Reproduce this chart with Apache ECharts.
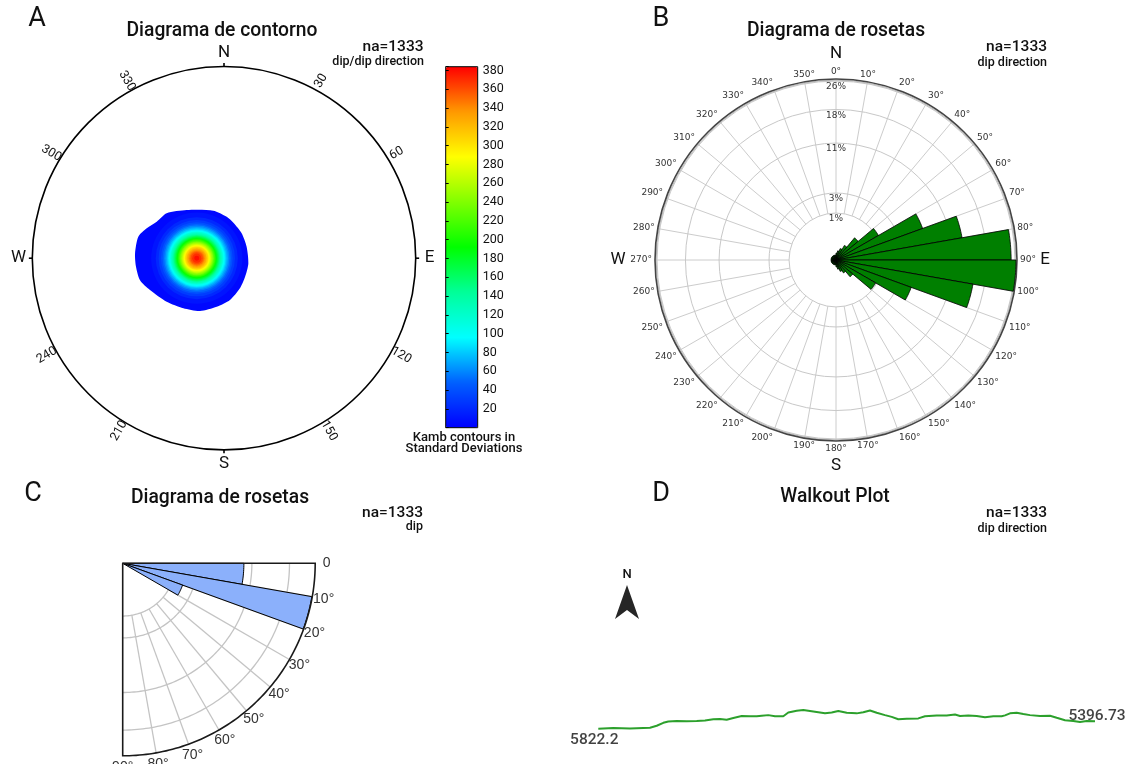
<!DOCTYPE html>
<html><head><meta charset="utf-8">
<script src="https://cdn.jsdelivr.net/npm/echarts@6/dist/echarts.min.js"></script>
<style>html,body{margin:0;padding:0;background:#fff}#c{width:1132px;height:764px}</style>
</head><body><div id="c"></div>
<script>
// ================= DATA =================
const sampleCount = 1333;

// Panel A : contour diagram (stereonet units, radius 1 = primitive circle)
const colorbarMin = 0;
const colorbarMax = 384;
const colorbarTicks = [20,40,60,80,100,120,140,160,180,200,220,240,260,280,300,320,340,360,380];
const contourCenter = [-0.142, 0.0];
const contourOutlineLevel = 4;
const contourOutlineU = [-0.299,-0.195,-0.056,0.014,0.049,0.092,0.118,0.127,0.110,0.083,0.031,-0.038,-0.125,-0.212,-0.299,-0.386,-0.438,-0.459,-0.464,-0.447,-0.403,-0.351];
const contourOutlineV = [0.234,0.251,0.248,0.216,0.185,0.130,0.060,-0.027,-0.097,-0.157,-0.218,-0.253,-0.275,-0.261,-0.227,-0.166,-0.115,-0.044,0.026,0.112,0.156,0.190];
const contourLevels = [10,20,30,40,50,60,70,80,90,100,110,120,130,140,150,160,170,180,190,200,210,220,230,240,250,260,270,280,290,300,310,320,330,340,350,360,370,380];
const contourRadii  = [0.238,0.214,0.199,0.187,0.178,0.170,0.163,0.156,0.150,0.145,0.139,0.135,0.130,0.125,0.121,0.117,0.113,0.109,0.104,0.101,0.097,0.093,0.089,0.086,0.082,0.078,0.074,0.070,0.066,0.062,0.058,0.053,0.049,0.043,0.038,0.032,0.024,0.013];
const azimuthAngles = [0,30,60,90,120,150,180,210,240,270,300,330];
const azimuthText   = ['N','30','60','E','120','150','S','210','240','W','300','330'];

// Panel B : rose diagram of dip direction (percent per 10 degree bin)
const roseBinStart = [0,10,20,30,40,50,60,70,80,90,100,110,120,130,140,150,160,170,180,190,200,210,220,230,240,250,260,270,280,290,300,310,320,330,340,350];
const rosePercent  = [0.04,0.07,0.12,0.23,0.68,1.95,6.9,13.3,24.9,26.3,15.7,5.2,1.7,0.39,0.18,0.12,0.07,0.04,0.02,0.02,0.02,0.02,0.02,0.02,0.02,0.02,0.02,0.02,0.02,0.02,0.02,0.02,0.02,0.02,0.02,0.02];
const roseMaxPercent = 26.6;
const roseRingValues = [1.79,3.64,11.1,18.4,26.0];
const roseRingLabels = ['1%','3%','11%','18%','26%'];

// Panel C : rose diagram of dip (percent per 10 degree bin)
const dipBinStart = [0,10,20];
const dipPercent  = [26.4,66.3,7.3];
const dipMaxPercent = 66.6;
const dipRingValues = [5,10,30,50];
const dipSpokes = [10,20,30,40,50,60,70,80];
const dipTickAngles = [0,10,20,30,40,50,60,70,80,90];
const dipTickLabels = ['0','10°','20°','30°','40°','50°','60°','70°','80°','90°'];

// Panel D : walkout plot (east / north displacement)
const walkEast  = [0,15,31.7,51.7,58.4,65,70,78.4,88.4,98.4,106.7,115,121.7,128.4,135,143.4,151.7,158.4,163.4,170,176.7,185,190,198.4,205,215,226.7,233.4,240,248.4,258.4,265,271.7,278.4,286.7,293.4,300,308.4,320,326.7,338.4,348.4,356.7,361.7,370,378.4,386.7,395,403.4,406.7,411.7,418.4,425,431.7,441.7,451.7,458.4,466.7,475,481.7,488.4,496.7];
const walkNorth = [0,0.6,0.3,1,3.3,6.6,8,8.6,8.3,8.6,9.3,10.6,11,10,12,14.3,14,14,14.6,15.3,14,14,18.3,20.3,21,19.3,17.3,18.3,20,18,17.3,18.6,20.6,18,15.3,13.3,10.6,11.3,11.6,14,15,15,16,14.3,15,14.3,13,14,14,15,17.3,18,16.6,15.3,14.3,14.6,12.3,9.6,8.6,7.6,8.6,8.3];
const walkStartLabel = '5822.2';
const walkEndLabel = '5396.73';

// ================= RENDER =================
const FONT = 'Roboto, "Noto Sans", sans-serif';
const chart = echarts.init(document.getElementById('c'));

function txt(x, y, text, size, o) {
  o = o || {};
  return {type:'text', x:x, y:y, silent:true, z:100, style:{
    text:text, font:(o.weight||'normal')+' '+size+'px '+(o.family||FONT),
    fill:o.color||'#111', align:o.align||'center', verticalAlign:o.va||'middle'}};
}

// ---- Panel A renderers
function renderContour(params, api) {
  const i = params.dataIndex;
  const color = api.visual('color');
  if (i === 0) {
    const pts = contourOutlineU.map((u,k)=>api.coord([u, contourOutlineV[k]]));
    return {type:'polygon', shape:{points:pts, smooth:0.25}, style:{fill:color}};
  }
  const c = api.coord(contourCenter);
  const r = api.size([contourRadii[i-1], 0])[0];
  return {type:'circle', shape:{cx:c[0], cy:c[1], r:r}, style:{fill:color}};
}
function renderStereoFrame(params, api) {
  const i = params.dataIndex;
  const az = api.value(0);
  const children = [];
  const c = api.coord([0,0]);
  const R = api.size([1,1])[0];
  if (i === 0) children.push({type:'circle', shape:{cx:c[0], cy:c[1], r:R}, style:{fill:'none', stroke:'#000', lineWidth:1.6}});
  if (az % 90 === 0) {
    const a = az*Math.PI/180, dx = Math.sin(a), dy = Math.cos(a);
    const p1 = api.coord([dx, dy]), p2 = api.coord([dx*1.018, dy*1.018]);
    children.push({type:'line', shape:{x1:p1[0],y1:p1[1],x2:p2[0],y2:p2[1]}, style:{stroke:'#000', lineWidth:1.6}});
    const pt = api.coord([dx*1.072, dy*1.072]);
    children.push({type:'text', x:pt[0], y:pt[1], style:{text:azimuthText[i], font:'17px '+FONT, fill:'#111', align:'center', verticalAlign:'middle'}});
  } else {
    const shift = az < 180 ? -1.3 : 1.3;
    const a = (az+shift)*Math.PI/180;
    const pt = api.coord([Math.sin(a)*1.054, Math.cos(a)*1.054]);
    let rot = 90 - az;
    rot = ((rot % 180) + 180) % 180; if (rot > 90) rot -= 180;
    children.push({type:'text', x:pt[0], y:pt[1], rotation:rot*Math.PI/180,
      style:{text:azimuthText[i], font:'12.5px '+FONT, fill:'#111', align:'center', verticalAlign:'middle'}});
  }
  return {type:'group', children:children};
}

// ---- Panel B renderers (polar 1, radius axis in sqrt(percent))
function renderRoseRing(params, api) {
  const v = api.value(0);
  const c = api.coord([0, 0]);
  const top = api.coord([Math.sqrt(v), 0]);
  const r = Math.hypot(top[0]-c[0], top[1]-c[1]);
  return {type:'group', children:[
    {type:'circle', shape:{cx:c[0], cy:c[1], r:r}, style:{fill:'none', stroke:'#c8c8c8', lineWidth:1}},
    {type:'text', x:top[0], y:top[1]+6, style:{text:roseRingLabels[params.dataIndex], font:'9px "DejaVu Sans"', fill:'#333', align:'center', verticalAlign:'middle'}}
  ]};
}
function renderRoseOuter(params, api) {
  const c = api.coord([0, 0]);
  const top = api.coord([Math.sqrt(roseMaxPercent), 0]);
  const r = Math.hypot(top[0]-c[0], top[1]-c[1]);
  return {type:'group', children:[
    {type:'circle', shape:{cx:c[0], cy:c[1], r:r-1.2}, style:{fill:'none', stroke:'#bbbbbb', lineWidth:1}},
    {type:'circle', shape:{cx:c[0], cy:c[1], r:r}, style:{fill:'none', stroke:'#444', lineWidth:1.6}}
  ]};
}
function wedge(api, a0, width, pct, fill, lw) {
  const rr = Math.sqrt(pct);
  const pts = [api.coord([0, a0])];
  for (let k = 0; k <= 10; k++) pts.push(api.coord([rr, a0 + width*k/10]));
  return {type:'polygon', shape:{points:pts}, style:{fill:fill, stroke:'#000', lineWidth:lw}};
}
function renderRoseBar(params, api) {
  return wedge(api, api.value(0), 10, api.value(1), '#007f00', 0.8);
}

// ---- Panel C renderers (polar 2)
function renderDipRing(params, api) {
  const rr = Math.sqrt(api.value(0));
  const pts = [];
  for (let a = 0; a <= 90; a++) pts.push(api.coord([rr, a]));
  return {type:'polyline', shape:{points:pts}, style:{fill:'none', stroke:'#c4c4c4', lineWidth:1.3}};
}
function renderDipSpoke(params, api) {
  const a = api.value(0);
  const p1 = api.coord([Math.sqrt(dipRingValues[0]), a]);
  const p2 = api.coord([Math.sqrt(dipMaxPercent), a]);
  return {type:'line', shape:{x1:p1[0],y1:p1[1],x2:p2[0],y2:p2[1]}, style:{stroke:'#c4c4c4', lineWidth:1.3}};
}
function renderDipBar(params, api) {
  return wedge(api, api.value(0), 10, api.value(1), '#8bb0fb', 1);
}
function renderDipFrame(params, api) {
  const R = Math.sqrt(dipMaxPercent);
  const pts = [api.coord([0, 0])];
  for (let a = 0; a <= 90; a++) pts.push(api.coord([R, a]));
  pts.push(api.coord([0, 90]));
  return {type:'polyline', shape:{points:pts}, style:{fill:'none', stroke:'#1a1a1a', lineWidth:1.6}};
}
function renderDipLabel(params, api) {
  const a = api.value(0);
  const p = api.coord([Math.sqrt(dipMaxPercent)*1.06, a]);
  return {type:'text', x:p[0], y:p[1], style:{text:dipTickLabels[params.dataIndex], font:'14px "Liberation Sans"', fill:'#333', align:'center', verticalAlign:'middle'}};
}

const TS = 19.3; // title font size
const option = {
  animation: false,
  backgroundColor: '#fff',
  grid: [
    {left:32.3, top:66.5, width:383.4, height:383.4},
    {left:445.7, top:66.7, width:32, height:361, show:true, borderColor:'#000', borderWidth:1, z:10},
    {left:598.3, top:693.3, width:500, height:80}
  ],
  xAxis: [
    {gridIndex:0, type:'value', min:-1, max:1, show:false},
    {gridIndex:1, type:'value', min:0, max:1, show:false},
    {gridIndex:2, type:'value', min:0, max:500, show:false}
  ],
  yAxis: [
    {gridIndex:0, type:'value', min:-1, max:1, show:false},
    {gridIndex:1, type:'value', position:'right', min:colorbarMin, max:colorbarMax, interval:20, z:10,
      axisLine:{show:false}, splitLine:{show:false},
      axisTick:{show:true, length:3, lineStyle:{color:'#000'}},
      axisLabel:{margin:5, fontSize:12.5, fontFamily:FONT, color:'#111',
        formatter: v => colorbarTicks.indexOf(v) >= 0 ? String(v) : ''}},
    {gridIndex:2, type:'value', min:-40, max:40, show:false}
  ],
  polar: [
    {center:[836, 260], radius:[47, 181]},
    {center:[836, 260], radius:[0, 181]},
    {center:[122.7, 563.3], radius:[0, 192.5]}
  ],
  angleAxis: [
    {polarIndex:0, type:'value', min:0, max:360, interval:10, startAngle:90, clockwise:true,
      axisLine:{show:false},
      axisTick:{show:false},
      axisLabel:{show:true, margin:3, fontSize:9, fontFamily:'DejaVu Sans', color:'#333',
        formatter: v => v >= 360 ? '' : v + '°'},
      splitLine:{show:true, lineStyle:{color:'#cccccc', width:1}}},
    {polarIndex:1, type:'value', min:0, max:360, startAngle:90, clockwise:true, show:false},
    {polarIndex:2, type:'value', min:0, max:360, startAngle:0, clockwise:true, show:false}
  ],
  radiusAxis: [
    {polarIndex:0, type:'value', min:0, max:1, show:false},
    {polarIndex:1, type:'value', min:0, max:Math.sqrt(roseMaxPercent), show:false},
    {polarIndex:2, type:'value', min:0, max:Math.sqrt(dipMaxPercent), show:false}
  ],
  visualMap: [{
    type:'continuous', min:colorbarMin, max:colorbarMax, seriesIndex:0, dimension:0,
    left:445.7, top:66.7, itemWidth:32, itemHeight:361, padding:0,
    calculable:false, hoverLink:false, text:null, orient:'vertical',
    inRange:{color:['#0000ff','#0060ff','#00ffff','#00ff99','#00ff00','#80ff00','#ffff00','#ff9900','#ff0000']}
  }],
  series: [
    {type:'custom', coordinateSystem:'cartesian2d', xAxisIndex:0, yAxisIndex:0, silent:true,
      data:[contourOutlineLevel].concat(contourLevels).map(v=>[v]), renderItem:renderContour, encode:{x:-1,y:-1}},
    {type:'custom', coordinateSystem:'cartesian2d', xAxisIndex:0, yAxisIndex:0, silent:true,
      data:azimuthAngles.map(v=>[v]), renderItem:renderStereoFrame, encode:{x:-1,y:-1}},
    {type:'custom', coordinateSystem:'polar', polarIndex:1, silent:true,
      data:roseRingValues.map(v=>[v]), renderItem:renderRoseRing},
    {type:'custom', coordinateSystem:'polar', polarIndex:1, silent:true,
      data:[[0]], renderItem:renderRoseOuter},
    {type:'custom', coordinateSystem:'polar', polarIndex:1, silent:true,
      data:roseBinStart.map((a,i)=>[a, rosePercent[i]]), renderItem:renderRoseBar},
    {type:'custom', coordinateSystem:'polar', polarIndex:2, silent:true,
      data:dipRingValues.map(v=>[v]), renderItem:renderDipRing},
    {type:'custom', coordinateSystem:'polar', polarIndex:2, silent:true,
      data:dipSpokes.map(v=>[v]), renderItem:renderDipSpoke},
    {type:'custom', coordinateSystem:'polar', polarIndex:2, silent:true,
      data:dipBinStart.map((a,i)=>[a, dipPercent[i]]), renderItem:renderDipBar},
    {type:'custom', coordinateSystem:'polar', polarIndex:2, silent:true,
      data:[[0]], renderItem:renderDipFrame},
    {type:'custom', coordinateSystem:'polar', polarIndex:2, silent:true,
      data:dipTickAngles.map(v=>[v]), renderItem:renderDipLabel},
    {type:'line', xAxisIndex:2, yAxisIndex:2, silent:true, symbol:'none',
      lineStyle:{color:'#2ca02c', width:2}, data:walkEast.map((x,i)=>[x, walkNorth[i]])},
    {type:'scatter', xAxisIndex:2, yAxisIndex:2, silent:true, symbolSize:0,
      data:[
        {value:[walkEast[0], walkNorth[0]], label:{show:true, position:'bottom', distance:0, offset:[-4,3], formatter:walkStartLabel}},
        {value:[walkEast[walkEast.length-1], walkNorth[walkNorth.length-1]], label:{show:true, position:'top', distance:0, offset:[2,3], formatter:walkEndLabel}}
      ],
      label:{fontFamily:FONT, fontSize:15.5, fontWeight:500, color:'#111'}}
  ],
  graphic: [
    txt(37, 19, 'A', 27), txt(661, 19, 'B', 27), txt(33, 494, 'C', 27), txt(661, 494, 'D', 27),
    txt(222, 31, 'Diagrama de contorno', TS, {weight:500}),
    txt(836, 31, 'Diagrama de rosetas', TS, {weight:500}),
    txt(220, 498, 'Diagrama de rosetas', TS, {weight:500}),
    txt(835, 497, 'Walkout Plot', TS, {weight:500}),
    txt(423.5, 47.5, 'na=' + sampleCount, 15.5, {weight:500, align:'right'}),
    txt(424, 62, 'dip/dip direction', 12.5, {weight:500, align:'right'}),
    txt(1047, 47.5, 'na=' + sampleCount, 15.5, {weight:500, align:'right'}),
    txt(1047, 62.5, 'dip direction', 12.5, {weight:500, align:'right'}),
    txt(423, 513, 'na=' + sampleCount, 15.5, {weight:500, align:'right'}),
    txt(423, 527, 'dip', 12.5, {weight:500, align:'right'}),
    txt(1047, 513, 'na=' + sampleCount, 15.5, {weight:500, align:'right'}),
    txt(1047, 529, 'dip direction', 12.5, {weight:500, align:'right'}),
    txt(836, 54, 'N', 17), txt(836, 466, 'S', 17), txt(618, 260, 'W', 17), txt(1045, 260, 'E', 17),
    txt(464, 438, 'Kamb contours in', 13, {weight:500}),
    txt(464, 449, 'Standard Deviations', 13, {weight:500}),
    txt(627, 575, 'N', 13, {weight:500}),
    {type:'polygon', silent:true, z:100, shape:{points:[[627,585],[639,619],[627,610],[615,619]]}, style:{fill:'#262626'}}
  ]
};
chart.setOption(option);
</script>
</body></html>
